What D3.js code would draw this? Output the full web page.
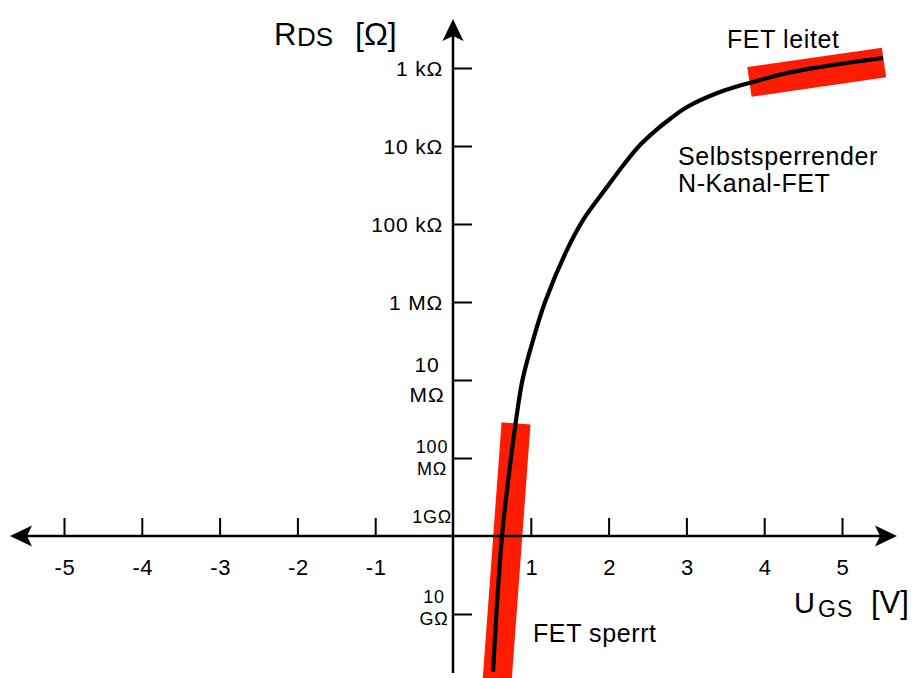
<!DOCTYPE html>
<html>
<head>
<meta charset="utf-8">
<script src="https://cdn.jsdelivr.net/npm/d3@7"></script>
<style>
  body { margin: 0; background: white; }
  svg { display: block; font-family: "Liberation Sans", Arial, Helvetica, sans-serif; }
</style>
</head>
<body>
<div id="chart"></div>
<script>
const width = 920;
const height = 678;

// curve R_DS(U_GS)
const ugs = [0.514, 0.63, 0.745, 0.806, 0.893, 1.028, 1.183, 1.465, 1.671, 1.979, 2.211, 2.404, 2.596, 2.789, 3.008, 3.432, 3.856, 4.293, 4.717, 5.141, 5.527];
const rds = [5.5e10, 1e9, 1e8, 3.5e7, 1e7, 3.1e6, 1e6, 2.15e5, 8.9e4, 3.36e4, 1.65e4, 9.7e3, 6.43e3, 4.51e3, 3.16e3, 2.03e3, 1.51e3, 1.16e3, 971, 838, 745];

// red highlight bands (start / end point of each band)
const bandSperrtU = [0.81, 0.56];
const bandSperrtR = [3.6e7, 9e10];
const bandLeitetU = [3.81, 5.54];
const bandLeitetR = [1.51e3, 850];

// ticks
const xTickValues = [-5, -4, -3, -2, -1, 1, 2, 3, 4, 5];
const yTickValues = [1e3, 1e4, 1e5, 1e6, 1e7, 1e8, 1e9, 1e10];
const yTickLabels = [["1 k\u03A9"], ["10 k\u03A9"], ["100 k\u03A9"], ["1 M\u03A9"],
                     ["10", "M\u03A9"], ["100", "M\u03A9"], ["1G\u03A9"], ["10", "G\u03A9"]];

var x = d3.scaleLinear().domain([-5, 5]).range([64, 842]);
var y = d3.scaleLog().domain([1e3, 1e9]).range([68, 536]);

var svg = d3.select('#chart')
    .append('svg')
    .attr('width', width)
    .attr('height', height);

var x0 = x(0), y0 = y(1e9);

// red bands, drawn as thick butt-capped lines
function band(us, rs, w) {
    svg.append('line')
        .attr('x1', x(us[0])).attr('y1', y(rs[0]))
        .attr('x2', x(us[1])).attr('y2', y(rs[1]))
        .attr('stroke', '#fe1c00')
        .attr('stroke-width', w)
        .attr('stroke-linecap', 'butt');
}
band(bandSperrtU, bandSperrtR, 29);
band(bandLeitetU, bandLeitetR, 30);

// axis lines
svg.append('line')
    .attr('x1', 14).attr('x2', 892)
    .attr('y1', y0).attr('y2', y0)
    .attr('stroke', 'black').attr('stroke-width', 2.5);
svg.append('line')
    .attr('x1', x0).attr('x2', x0)
    .attr('y1', 26).attr('y2', 673)
    .attr('stroke', 'black').attr('stroke-width', 2.5);

// arrow heads
function arrow(tx, ty, angle) {
    svg.append('path')
        .attr('d', 'M0,0 L-22,-10.5 L-17,0 L-22,10.5 Z')
        .attr('transform', `translate(${tx},${ty}) rotate(${angle})`)
        .attr('fill', 'black');
}
arrow(897, y0, 0);
arrow(10, y0, 180);
arrow(x0, 19, -90);

// x ticks (above the axis)
svg.append('g')
    .attr('transform', `translate(0,${y0})`)
    .call(d3.axisTop(x).tickValues(xTickValues).tickSize(18).tickFormat(''))
    .call(g => g.select('.domain').remove())
    .selectAll('line')
    .attr('stroke', 'black')
    .attr('stroke-width', 2);

svg.append('g')
    .selectAll('text')
    .data(xTickValues)
    .join('text')
    .attr('x', d => x(d) + 1)
    .attr('y', y0 + 39)
    .attr('text-anchor', 'middle')
    .attr('font-size', '22px')
    .attr('letter-spacing', '0.6px')
    .text(d => d);

// y ticks (right of the axis)
svg.append('g')
    .attr('transform', `translate(${x0},0)`)
    .call(d3.axisRight(y).tickValues(yTickValues.filter(v => v != 1e9)).tickSize(19).tickFormat(''))
    .call(g => g.select('.domain').remove())
    .selectAll('line')
    .attr('stroke', 'black')
    .attr('stroke-width', 2);

// y labels
yTickLabels.forEach(function(lines, i) {
    var v = yTickValues[i];
    var t = svg.append('text').attr('text-anchor', 'end').attr('letter-spacing', '0.8px');
    if (lines.length == 1 && v < 1e9) {
        t.attr('x', x0 - 10).attr('y', y(v) + 8).attr('font-size', '21px').text(lines[0]);
    } else if (v == 1e9) {
        t.attr('x', x0 - 1).attr('y', y(v) - 13).attr('font-size', '18px').text(lines[0]);
    } else {
        var fs = v == 1e7 ? 21 : 18;
        var cx = v == 1e7 ? 427 : (v == 1e8 ? 432 : 434);
        var top = v == 1e7 ? y(v) - 8 : (v == 1e8 ? y(v) - 5 : y(v) - 11);
        var gap = v == 1e7 ? 30 : 22;
        t.attr('text-anchor', 'middle');
        lines.forEach(function(l, k) {
            t.append('tspan')
                .attr('x', cx)
                .attr('y', top + k * gap)
                .attr('font-size', fs + 'px')
                .text(l);
        });
    }
});

// curve
var line = d3.line()
    .x((d, i) => x(ugs[i]))
    .y((d, i) => y(rds[i]))
    .curve(d3.curveCatmullRom);

svg.append('path')
    .datum(ugs)
    .attr('d', line)
    .attr('fill', 'none')
    .attr('stroke', 'black')
    .attr('stroke-width', 4.2);

// axis titles
var rt = svg.append('text').attr('y', 45).attr('font-size', '31px');
rt.append('tspan').attr('x', 274).text('R');
rt.append('tspan').attr('x', 297).attr('font-size', '26px').attr('dy', 1).text('DS');
rt.append('tspan').attr('x', 355).attr('dy', -1).attr('font-size', '32px').text('[\u03A9]');

var ut = svg.append('text').attr('y', 613).attr('font-size', '29px');
ut.append('tspan').attr('x', 794).text('U');
ut.append('tspan').attr('x', 818).attr('font-size', '23px').attr('letter-spacing', '1px').attr('dy', 4).text('GS');
ut.append('tspan').attr('x', 871).attr('dy', -4).attr('font-size', '31px').text('[V]');

// annotations
function note(tx, ty, s) {
    svg.append('text')
        .attr('x', tx).attr('y', ty)
        .attr('font-size', '25px')
        .attr('letter-spacing', '0.6px')
        .text(s);
}
note(727, 48, 'FET leitet');
note(533, 642, 'FET sperrt');
note(678, 165, 'Selbstsperrender');
note(678, 192, 'N-Kanal-FET');
</script>
</body>
</html>
